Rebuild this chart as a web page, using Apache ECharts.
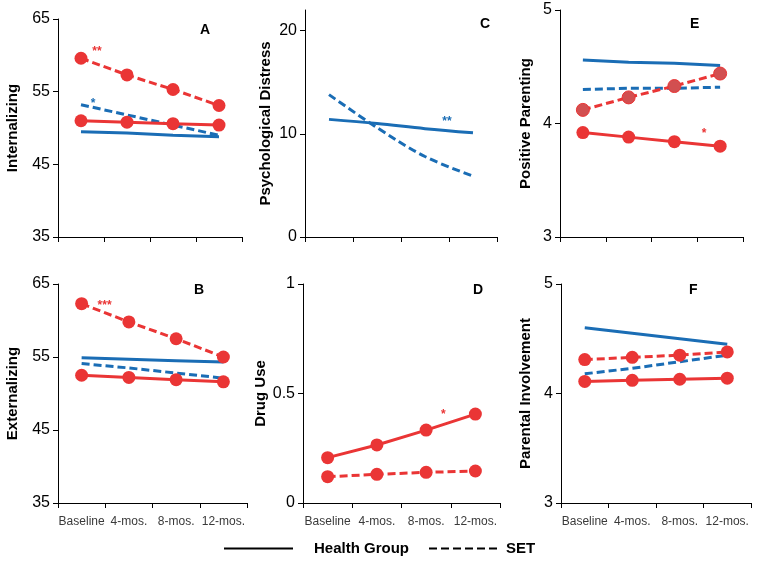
<!DOCTYPE html>
<html>
<head>
<meta charset="utf-8">
<script src="https://cdn.jsdelivr.net/npm/echarts@6/dist/echarts.min.js"></script>
<style>html,body{margin:0;padding:0;background:#fff;}#chart{width:760px;height:561px;}</style>
</head>
<body>
<div id="chart"></div>
<script>
// ---------- data ----------
const categories = ['Baseline', '4-mos.', '8-mos.', '12-mos.'];

const A_redHealth  = [51.0, 50.8, 50.6, 50.4];
const A_redSET     = [59.6, 57.3, 55.3, 53.1];
const A_blueHealth = [49.5, 49.3, 49.0, 48.8];
const A_blueSET    = [53.2, 51.8, 50.4, 49.0];

const B_redHealth  = [52.5, 52.2, 51.9, 51.6];
const B_redSET     = [62.3, 59.8, 57.5, 55.0];
const B_blueHealth = [54.9, 54.7, 54.5, 54.3];
const B_blueSET    = [54.1, 53.5, 52.8, 52.1];

const C_blueHealth = [11.4, 11.0, 10.5, 10.1];
const C_blueSET    = [13.8, 10.6, 7.8, 5.9];

const D_redHealth  = [0.207, 0.265, 0.333, 0.406];
const D_redSET     = [0.120, 0.131, 0.140, 0.146];

const E_redHealth  = [3.92, 3.88, 3.84, 3.80];
const E_redSET     = [4.12, 4.23, 4.33, 4.44];
const E_blueHealth = [4.56, 4.54, 4.53, 4.51];
const E_blueSET    = [4.30, 4.31, 4.31, 4.32];

const F_redHealth  = [4.11, 4.12, 4.13, 4.14];
const F_redSET     = [4.31, 4.33, 4.35, 4.38];
const F_blueHealth = [4.60, 4.55, 4.50, 4.45];
const F_blueSET    = [4.18, 4.23, 4.29, 4.35];

const yTicksA = [35, 45, 55, 65];
const yTicksB = [35, 45, 55, 65];
const yTicksC = [0, 10, 20];
const yTicksD = [0, 0.5, 1];
const yTicksE = [3, 4, 5];
const yTicksF = [3, 4, 5];

const panelLetters = ['A', 'B', 'C', 'D', 'E', 'F'];
const panelNames = ['Internalizing', 'Externalizing', 'Psychological Distress', 'Drug Use', 'Positive Parenting', 'Parental Involvement'];
const legendNames = ['Health Group', 'SET'];

// asterisk annotations: [panel index, category index, value, text, colour key]
const annotations = [
  [0, 0, 60.5, '**', 'red'],
  [0, 0, 53.4, '*', 'blue'],
  [1, 0, 62.0, '***', 'red'],
  [2, 2, 11.2, '**', 'blue'],
  [3, 3, 0.405, '*', 'red'],
  [4, 3, 3.91, '*', 'red']
];
// ---------- style / layout ----------
const RED = '#ea3535';
const BLUE = '#1a6db5';
const FONT = '"Liberation Sans", Arial, sans-serif';
const DASH = [8, 4];

// order: A, B, C, D, E, F
const layout = [
  {left: 58,  top: 19,  width: 184, height: 218, min: 35, max: 65, ticks: yTicksA, gap: 38, labels: false, letter: [200, 23], smooth: false},
  {left: 58,  top: 284, width: 189, height: 219, min: 35, max: 65, ticks: yTicksB, gap: 38, labels: true,  letter: [194, 283], smooth: false},
  {left: 305, top: 10,  width: 192, height: 227, min: 0,  max: 22, ticks: yTicksC, gap: 32, labels: false, letter: [480, 17], smooth: 0.35},
  {left: 303, top: 284, width: 197, height: 219, min: 0,  max: 1,  ticks: yTicksD, gap: 33, labels: true,  letter: [473, 283], smooth: false},
  {left: 560, top: 10,  width: 183, height: 227, min: 3,  max: 5,  ticks: yTicksE, gap: 27, labels: false, letter: [690, 17], smooth: false},
  {left: 561, top: 284, width: 190, height: 219, min: 3,  max: 5,  ticks: yTicksF, gap: 28, labels: true,  letter: [689, 283], smooth: false}
];

const panelSeries = [
  {blueHealth: A_blueHealth, blueSET: A_blueSET, redHealth: A_redHealth, redSET: A_redSET},
  {blueHealth: B_blueHealth, blueSET: B_blueSET, redHealth: B_redHealth, redSET: B_redSET},
  {blueHealth: C_blueHealth, blueSET: C_blueSET},
  {redHealth: D_redHealth, redSET: D_redSET},
  {blueHealth: E_blueHealth, blueSET: E_blueSET, redHealth: E_redHealth, redSET: E_redSET},
  {blueHealth: F_blueHealth, blueSET: F_blueSET, redHealth: F_redHealth, redSET: F_redSET}
];

const grids = [], xAxes = [], yAxes = [], titles = [], series = [];

layout.forEach((L, i) => {
  grids.push({left: L.left, top: L.top, width: L.width, height: L.height, containLabel: false, outerBoundsMode: 'none'});
  xAxes.push({
    type: 'category', gridIndex: i, data: categories, boundaryGap: true,
    axisLine: {show: true, lineStyle: {color: '#000', width: 1}},
    axisTick: {show: true, length: 5, lineStyle: {color: '#000'}},
    axisLabel: {show: L.labels, interval: 0, fontSize: 12, color: '#3a3a3a', margin: 13, fontFamily: FONT},
    splitLine: {show: false}
  });
  yAxes.push({
    type: 'value', gridIndex: i, min: L.min, max: L.max,
    name: panelNames[i], nameLocation: 'middle', nameRotate: 90, nameGap: L.gap,
    nameTextStyle: {fontSize: 15, fontWeight: 'bold', color: '#000', fontFamily: FONT},
    axisLine: {show: true, lineStyle: {color: '#000', width: 1}},
    axisTick: {show: true, length: 5, lineStyle: {color: '#000'}, customValues: L.ticks},
    axisLabel: {fontSize: 16, color: '#000', margin: 8, fontFamily: FONT, customValues: L.ticks},
    splitLine: {show: false}
  });
  titles.push({
    text: panelLetters[i], left: L.letter[0], top: L.letter[1], padding: 0,
    textStyle: {fontSize: 14, fontWeight: 'bold', color: '#000', fontFamily: FONT}
  });

  const S = panelSeries[i];
  const base = {type: 'line', xAxisIndex: i, yAxisIndex: i, smooth: L.smooth, silent: true, animation: false};
  if (S.blueHealth) series.push(Object.assign({}, base, {name: panelLetters[i] + ' blue Health Group', data: S.blueHealth, symbol: 'none', lineStyle: {color: BLUE, width: 3}, itemStyle: {color: BLUE}}));
  if (S.blueSET) series.push(Object.assign({}, base, {name: panelLetters[i] + ' blue SET', data: S.blueSET, symbol: 'none', lineStyle: {color: BLUE, width: 3, type: DASH}, itemStyle: {color: BLUE}}));
  if (S.redHealth) series.push(Object.assign({}, base, {name: panelLetters[i] + ' red Health Group', data: S.redHealth, symbol: 'circle', symbolSize: 13, lineStyle: {color: RED, width: 3}, itemStyle: {color: RED, borderWidth: 0}}));
  if (S.redSET) series.push(Object.assign({}, base, {name: panelLetters[i] + ' red SET', data: S.redSET, symbol: 'circle', symbolSize: 13, lineStyle: {color: RED, width: 3, type: DASH}, itemStyle: {color: panelLetters[i] === 'E' ? '#d24f50' : RED, borderColor: RED, borderWidth: panelLetters[i] === 'E' ? 1 : 0}}));
});

// asterisk annotations positioned through the axes
const annotationOffsets = [[16, 0], [12, 0], [23, 0], [22, 0], [-32, 0], [-16, 0]];
annotations.forEach((a, k) => {
  series.push({
    type: 'line', name: 'note' + k, xAxisIndex: a[0], yAxisIndex: a[0], data: [], silent: true, animation: false,
    markPoint: {
      symbol: 'rect', symbolSize: 1, itemStyle: {color: 'rgba(0,0,0,0)'},
      label: {show: true, position: 'inside', formatter: a[3], offset: annotationOffsets[k], color: a[4] === 'red' ? RED : BLUE, fontSize: 12, fontWeight: 'bold', fontFamily: FONT},
      data: [{coord: [a[1], a[2]]}]
    }
  });
});

// legend entries (solid / dashed convention)
series.push({type: 'line', name: legendNames[0], xAxisIndex: 0, yAxisIndex: 0, data: [], symbol: 'none', lineStyle: {color: '#000', width: 3}, itemStyle: {color: 'rgba(0,0,0,0)'}});
series.push({type: 'line', name: legendNames[1], xAxisIndex: 0, yAxisIndex: 0, data: [], symbol: 'none', lineStyle: {color: '#000', width: 3, type: DASH}, itemStyle: {color: 'rgba(0,0,0,0)'}});

const chart = echarts.init(document.getElementById('chart'), null, {renderer: 'canvas'});
chart.setOption({
  backgroundColor: '#fff',
  animation: false,
  textStyle: {fontFamily: FONT},
  title: titles,
  grid: grids,
  xAxis: xAxes,
  yAxis: yAxes,
  legend: {
    data: [
      {name: legendNames[0], textStyle: {padding: [0, 0, 0, 16]}},
      {name: legendNames[1], textStyle: {padding: [0, 0, 0, 3]}}
    ],
    left: 223, top: 541, padding: 0, itemWidth: 69, itemHeight: 14, itemGap: 19,
    selectedMode: false,
    itemStyle: {color: 'rgba(0,0,0,0)', borderWidth: 0},
    textStyle: {fontSize: 15, fontWeight: 'bold', color: '#000', fontFamily: FONT}
  },
  series: series
});
</script>
</body>
</html>
